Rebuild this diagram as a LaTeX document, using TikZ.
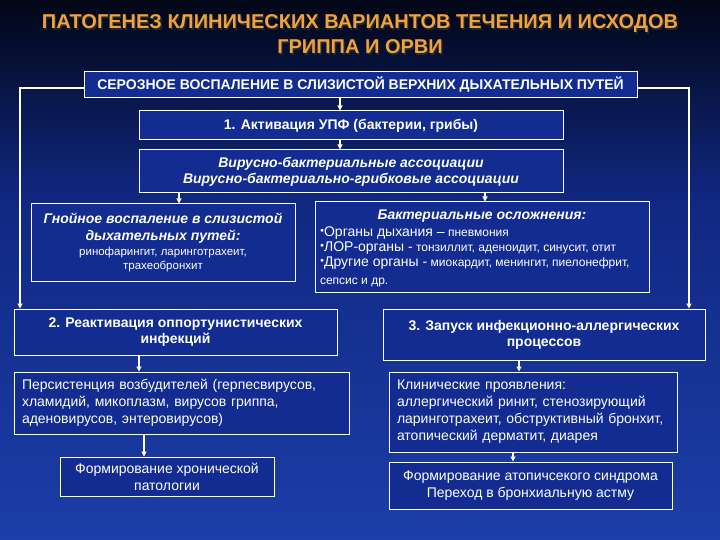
\documentclass[tikz,border=0pt]{standalone}
\usepackage{fontspec}
\setmainfont{Liberation Sans}
\usetikzlibrary{arrows.meta}
\definecolor{bgtop}{RGB}{2,6,22}
\definecolor{bgmid}{RGB}{16,40,130}
\definecolor{bgbot}{RGB}{28,62,168}
\definecolor{boxfill}{RGB}{18,44,146}
\definecolor{titleor}{RGB}{240,162,62}
\newcommand{\bi}{\bfseries\itshape\fontsize{14}{16}\selectfont}
\newcommand{\bg}{\fontsize{14}{15}\selectfont}
\newcommand{\bul}{{\fontsize{7.5}{8}\selectfont\raisebox{4pt}{$\bullet$}}}
\tikzset{
  box/.style={draw=white, line width=1pt, fill=boxfill, text=white, inner sep=3pt, align=center},
  lbox/.style={draw=white, line width=1pt, fill=boxfill, text=white, inner ysep=3pt, inner xsep=8pt, align=left},
  arr/.style={draw=white, line width=1.1pt, -{Triangle[length=5pt,width=5pt]}},
}
\begin{document}
\begin{tikzpicture}[x=1pt,y=-1pt]
\useasboundingbox (0,0) rectangle (720,540);
\shade[top color=bgtop, bottom color=bgmid] (0,0) rectangle (720,200);
\shade[top color=bgmid, bottom color=bgbot] (0,199.5) rectangle (720,540);
% title
\node[text=black!85, font=\bfseries\fontsize{20}{25}\selectfont, align=center] (tshadow) at (361.3,35.8)
  {ПАТОГЕНЕЗ КЛИНИЧЕСКИХ ВАРИАНТОВ ТЕЧЕНИЯ И ИСХОДОВ\\ГРИППА И ОРВИ};
\node[text=titleor, font=\bfseries\fontsize{20}{25}\selectfont, align=center] (title) at (360,34.5)
  {ПАТОГЕНЕЗ КЛИНИЧЕСКИХ ВАРИАНТОВ ТЕЧЕНИЯ И ИСХОДОВ\\ГРИППА И ОРВИ};
% boxes
\node[box, minimum width=553, minimum height=26, font=\bfseries\fontsize{14}{16}\selectfont] (top) at (360.5,85)
  {СЕРОЗНОЕ ВОСПАЛЕНИЕ В СЛИЗИСТОЙ ВЕРХНИХ ДЫХАТЕЛЬНЫХ ПУТЕЙ};
\node[box, minimum width=424, minimum height=29, font=\bfseries\fontsize{14}{16}\selectfont] (upf) at (351,125.5)
  {1. Активация УПФ (бактерии, грибы)};
\node[box, minimum width=424, minimum height=43, font=\bi] (vir) at (351,171.5)
  {Вирусно-бактериальные ассоциации\\Вирусно-бактериально-грибковые ассоциации};
\node[box, minimum width=264, minimum height=77, font=\fontsize{11.5}{17}\selectfont] (gno) at (163,242.5)
  {{\bi Гнойное воспаление в слизистой}\\{\bi дыхательных путей:}\\[-2pt]ринофарингит, ларинготрахеит,\\[-3pt]трахеобронхит};
\node[draw=white, line width=1pt, fill=boxfill, text=white, inner xsep=5pt, inner ysep=3pt, font=\fontsize{12}{15}\selectfont] (bac) at (482,247)
  {\parbox[c][84pt][t]{324pt}{\vspace*{5pt}%
   {\centering\bi Бактериальные осложнения:\par}\vspace{2pt}%
   \mbox{\bul{\bg Органы дыхания –} пневмония}\\
   \mbox{\bul{\bg ЛОР-органы -} тонзиллит, аденоидит, синусит, отит}\\
   \mbox{\bul{\bg Другие органы -} миокардит, менингит, пиелонефрит,}\\[3pt]
   сепсис и др.\vss}};
\node[box, minimum width=323, minimum height=46, font=\bfseries\fontsize{14}{16}\selectfont] (r2) at (175.5,332)
  {2. Реактивация оппортунистических\\инфекций};
\node[lbox, text width=319pt, minimum height=62, font=\fontsize{14}{17}\selectfont] (per) at (181.5,403)
  {Персистенция возбудителей (герпесвирусов,\\хламидий, микоплазм, вирусов гриппа,\\аденовирусов, энтеровирусов)};
\node[box, minimum width=214, minimum height=39, font=\fontsize{14}{17}\selectfont] (chr) at (167,476.5)
  {Формирование хронической\\патологии};
\node[box, minimum width=322, minimum height=51, font=\bfseries\fontsize{14}{16}\selectfont] (r3) at (544,334.5)
  {3. Запуск инфекционно-аллергических\\процессов};
\node[lbox, text width=272pt, minimum height=80, font=\fontsize{14}{17}\selectfont] (cli) at (533,412)
  {Клинические проявления:\\аллергический ринит, стенозирующий\\ларинготрахеит, обструктивный бронхит,\\атопический дерматит, диарея};
\node[box, minimum width=283, minimum height=47, font=\fontsize{14}{17}\selectfont] (ato) at (530.5,485.5)
  {Формирование атопичсекого синдрома\\Переход в бронхиальную астму};
% x-coordinates for connectors
\coordinate (xa) at (340,0);
\coordinate (xb) at (179,0);
\coordinate (xc) at (485,0);
\coordinate (xd) at (139,0);
\coordinate (xe) at (144,0);
\coordinate (xf) at (519,0);
\coordinate (xg) at (513,0);
\coordinate (xL) at (20,0);
\coordinate (xR) at (689,0);
% connectors
\draw[arr] (top.south -| xa) -- (upf.north -| xa);
\draw[arr] (upf.south -| xa) -- (vir.north -| xa);
\draw[arr] (vir.south -| xb) -- (gno.north -| xb);
\draw[arr] (vir.south -| xc) -- (bac.north -| xc);
\draw[arr] (r2.south -| xd) -- (per.north -| xd);
\draw[arr] (per.south -| xe) -- (chr.north -| xe);
\draw[arr] (r3.south -| xf) -- (cli.north -| xf);
\draw[arr] (cli.south -| xg) -- (ato.north -| xg);
\draw[arr] ([yshift=-3pt]top.west) -| (r2.north -| xL);
\draw[arr] ([yshift=-3pt]top.east) -| (r3.north -| xR);
\end{tikzpicture}
\end{document}
